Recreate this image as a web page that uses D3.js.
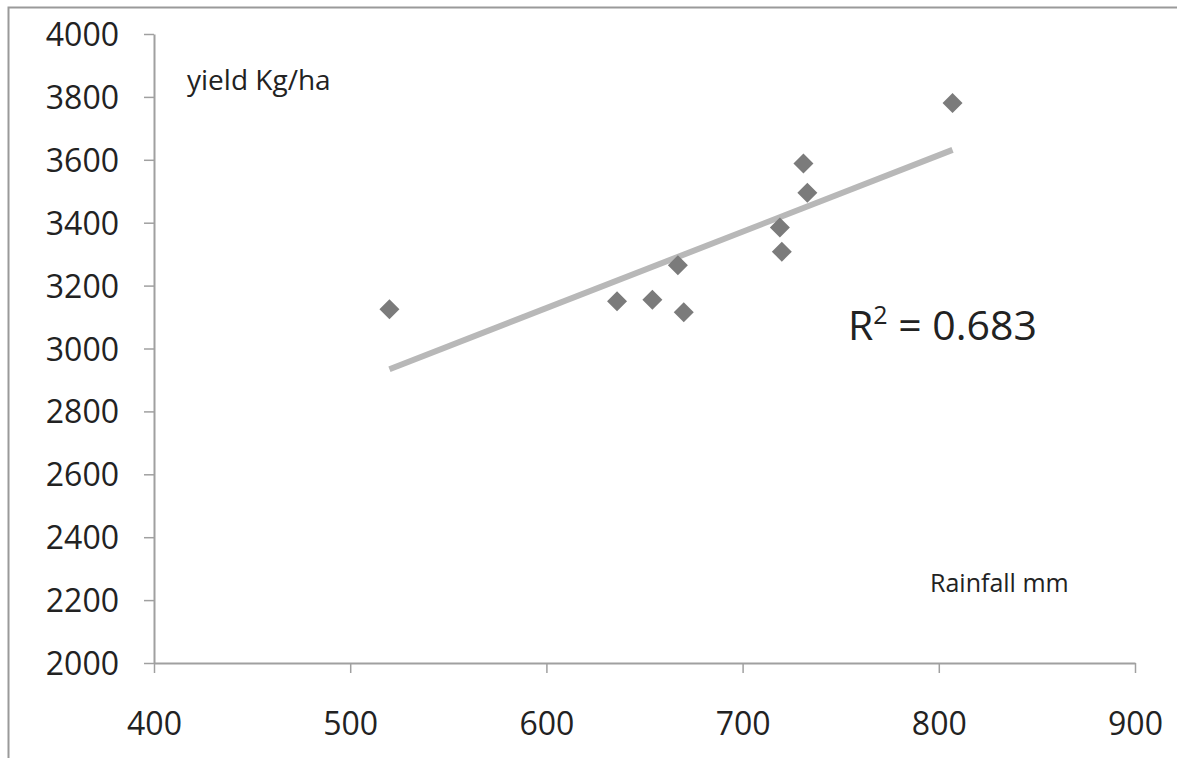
<!DOCTYPE html>
<html>
<head>
<meta charset="utf-8">
<script src="https://cdn.jsdelivr.net/npm/d3@7"></script>
<style>
  body { margin: 0; background: #fff; }
  svg { display: block; }
</style>
</head>
<body>
<script>
// rainfall (mm) vs yield (kg/ha)
let rainfall = [520, 636, 654, 667, 670, 719, 720, 733, 731, 807];
let yields   = [3125, 3150, 3155, 3265, 3115, 3385, 3308, 3495, 3588, 3781];
let xTicks = [400, 500, 600, 700, 800, 900];
let yTicks = [2000, 2200, 2400, 2600, 2800, 3000, 3200, 3400, 3600, 3800, 4000];
let r2Label = "0.683";

let w = 1177;
let h = 758;
let font = "'Open Sans', sans-serif";

let data = rainfall.map((r, i) => ({ x: r, y: yields[i] }));

let xScale = d3.scaleLinear().domain([400, 900]).range([154, 1135]);
let yScale = d3.scaleLinear().domain([2000, 4000]).range([663, 34]);

let svg = d3.select("body")
  .append("svg")
  .attr("width", w)
  .attr("height", h);

// outer frame
svg.append("rect")
  .attr("x", 8.5)
  .attr("y", 7.5)
  .attr("width", w + 10)
  .attr("height", h + 10)
  .attr("fill", "none")
  .attr("stroke", "#9a9a9a")
  .attr("stroke-width", 2);

// axes
let xAxis = svg.append("g")
  .attr("transform", "translate(0," + yScale(2000) + ")")
  .call(d3.axisBottom(xScale).tickValues(xTicks).tickFormat(d3.format("d"))
    .tickSize(10).tickSizeOuter(0));

let yAxis = svg.append("g")
  .attr("transform", "translate(" + xScale(400) + ",0)")
  .call(d3.axisLeft(yScale).tickValues(yTicks).tickFormat(d3.format("d"))
    .tickSize(10).tickSizeOuter(0));

[xAxis, yAxis].forEach((g) => {
  g.select(".domain").attr("stroke", "#a0a0a0").attr("stroke-width", 2);
  g.selectAll(".tick line").attr("stroke", "#a0a0a0").attr("stroke-width", 1.5);
  g.selectAll(".tick text")
    .attr("font-family", font)
    .attr("font-size", "32px")
    .attr("fill", "#222");
});
yAxis.selectAll(".tick text").attr("x", -35).attr("dy", "0.36em");
xAxis.selectAll(".tick text").attr("y", 72).attr("dy", 0);

// linear trend (least squares)
let mx = d3.mean(rainfall);
let my = d3.mean(yields);
let sxy = d3.sum(data, (d) => (d.x - mx) * (d.y - my));
let sxx = d3.sum(data, (d) => (d.x - mx) * (d.x - mx));
let slope = sxy / sxx;
let icpt = my - slope * mx;
let xr = d3.extent(rainfall);

svg.append("line")
  .attr("x1", xScale(xr[0]))
  .attr("y1", yScale(icpt + slope * xr[0]))
  .attr("x2", xScale(xr[1]))
  .attr("y2", yScale(icpt + slope * xr[1]))
  .attr("stroke", "#b8b8b8")
  .attr("stroke-width", 6);

// markers
let diamond = d3.symbol().type(d3.symbolSquare).size(200);
svg.selectAll("path.pt")
  .data(data)
  .enter()
  .append("path")
  .attr("class", "pt")
  .attr("d", diamond)
  .attr("transform", (d) => "translate(" + xScale(d.x) + "," + yScale(d.y) + ") rotate(45)")
  .attr("fill", "#7b7b7b");

// labels
svg.append("text")
  .attr("x", 187)
  .attr("y", 90)
  .attr("font-family", font)
  .attr("font-size", "28px")
  .attr("fill", "#222")
  .text("yield Kg/ha");

svg.append("text")
  .attr("x", 930)
  .attr("y", 592)
  .attr("font-family", font)
  .attr("font-size", "25px")
  .attr("fill", "#222")
  .text("Rainfall mm");

let r2 = svg.append("text")
  .attr("x", 848)
  .attr("y", 340)
  .attr("font-family", font)
  .attr("font-size", "41px")
  .attr("fill", "#222");
r2.append("tspan").text("R");
r2.append("tspan").attr("dy", -16).attr("font-size", "25px").text("2");
r2.append("tspan").attr("dy", 16).text(" = " + r2Label);
</script>
</body>
</html>
